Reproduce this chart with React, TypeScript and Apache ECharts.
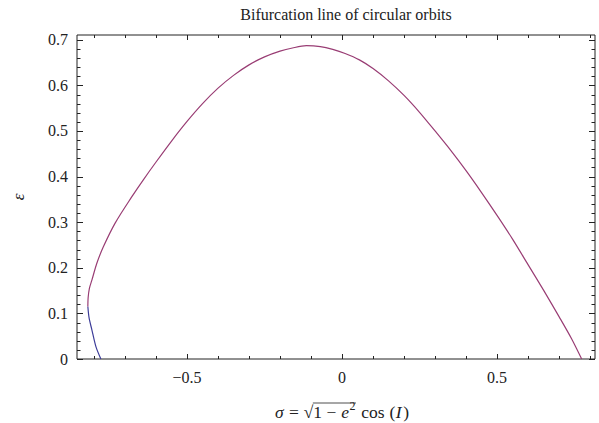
import React, { useEffect, useRef } from "react";
import * as echarts from "echarts";

const FONT = "Liberation Serif";
const TITLE = "Bifurcation line of circular orbits";

// lower (blue) branch: sigma, e
const sigmaLower = [-0.820, -0.816, -0.807, -0.794, -0.778];
const eLower = [0.115, 0.09, 0.064, 0.027, 0];

// upper (purple) branch: sigma, e
const sigmaUpper = [
  -0.820, -0.819, -0.815, -0.807, -0.791, -0.770, -0.732, -0.678, -0.641, -0.6,
  -0.55, -0.5, -0.45, -0.4, -0.35, -0.3, -0.25, -0.2, -0.16, -0.115, -0.07, -0.03,
  0.01, 0.056, 0.1, 0.15, 0.2, 0.25, 0.3, 0.35, 0.4, 0.45, 0.5, 0.55, 0.6, 0.65,
  0.7, 0.74, 0.773,
];
const eUpper = [
  0.115, 0.135, 0.155, 0.173, 0.21, 0.246, 0.298, 0.356, 0.393, 0.432,
  0.478, 0.521, 0.56, 0.594, 0.622, 0.645, 0.6625, 0.675, 0.682, 0.687, 0.685, 0.679,
  0.67, 0.656, 0.637, 0.61, 0.578, 0.541, 0.5, 0.458, 0.413, 0.365, 0.315, 0.263, 0.207, 0.151,
  0.093, 0.045, 0,
];

const xMajorTicks = [-0.5, 0, 0.5];
const xMinorTicks = [-0.8, -0.7, -0.6, -0.4, -0.3, -0.2, -0.1, 0.1, 0.2, 0.3, 0.4, 0.6, 0.7, 0.8];
const yMajorTicks = [0, 0.1, 0.2, 0.3, 0.4, 0.5, 0.6, 0.7];
const yMinorTicks = [
  0.02, 0.04, 0.06, 0.08, 0.12, 0.14, 0.16, 0.18, 0.22, 0.24, 0.26, 0.28,
  0.32, 0.34, 0.36, 0.38, 0.42, 0.44, 0.46, 0.48, 0.52, 0.54, 0.56, 0.58,
  0.62, 0.64, 0.66, 0.68,
];

const X_MIN = -0.855;
const X_MAX = 0.816;
const Y_MIN = 0;
const Y_MAX = 0.7105;

const AXIS_COLOR = "#222";
const BLUE = "#3D3D99";
const PURPLE = "#993D74";

function measure(text: string, size: number, italic = false): number {
  const c = document.createElement("canvas").getContext("2d");
  if (!c) return text.length * size * 0.5;
  c.font = `${italic ? "italic " : ""}${size}px "${FONT}"`;
  return c.measureText(text).width;
}

export default function App() {
  const ref = useRef<HTMLDivElement>(null);
  useEffect(() => {
    if (!ref.current) return;
    const chart = echarts.init(ref.current, null, { renderer: "svg" });

    // x-axis title pieces: σ = √(1 − e²) cos (I)
    const fs = 17.5;
    const cx = 342;
    const cy = 412;
    const parts: { t: string; it: boolean; size: number; dy: number; gap: number }[] = [
      { t: "\u03C3", it: true, size: fs, dy: 0, gap: 1 },
      { t: " = ", it: false, size: fs, dy: 0, gap: 0.5 },
      { t: "\u221A", it: false, size: fs, dy: 0, gap: 0 },
      { t: "1 \u2212 ", it: false, size: fs, dy: 0, gap: 0.5 },
      { t: "e", it: true, size: fs, dy: 0, gap: 0.5 },
      { t: "2", it: false, size: 12, dy: -6, gap: 1.5 },
      { t: " cos ", it: false, size: fs, dy: 0, gap: 0.5 },
      { t: "(", it: false, size: fs, dy: 0, gap: 0.5 },
      { t: "I", it: true, size: fs, dy: 0, gap: 1.5 },
      { t: ")", it: false, size: fs, dy: 0, gap: 0 },
    ];
    const widths = parts.map((p) => measure(p.t, p.size, p.it) + p.gap);
    const total = widths.reduce((a, b) => a + b, 0);
    let xx = cx - total / 2;
    const xTitleEls: any[] = [];
    let barStart = 0;
    let barEnd = 0;
    parts.forEach((p, i) => {
      if (i === 3) barStart = xx;
      xTitleEls.push({
        type: "text",
        x: xx,
        y: cy + p.dy,
        style: {
          text: p.t,
          fontFamily: FONT,
          fontSize: p.size,
          fontStyle: p.it ? "italic" : "normal",
          fill: "#222",
          align: "left",
          verticalAlign: "middle",
        },
      });
      xx += widths[i];
      if (i === 5) barEnd = xx - p.gap;
    });
    xTitleEls.push({
      type: "line",
      shape: { x1: barStart - 0.5, y1: cy - 9, x2: barEnd + 0.5, y2: cy - 9 },
      style: { stroke: "#222", lineWidth: 0.8 },
    });

    const xTickData = [
      ...xMajorTicks.map((v) => [v, 1]),
      ...xMinorTicks.map((v) => [v, 0]),
    ];
    const yTickData = [
      ...yMajorTicks.map((v) => [1, v]),
      ...yMinorTicks.map((v) => [0, v]),
    ];
    const tickStyle = { stroke: AXIS_COLOR, lineWidth: 1 };

    const option: any = {
      animation: false,
      backgroundColor: "#fff",
      grid: {
        left: 77,
        right: 4,
        top: 35,
        bottom: 64,
        containLabel: false,
        outerBoundsMode: "none",
        show: true,
        borderColor: AXIS_COLOR,
        borderWidth: 1,
        backgroundColor: "transparent",
      },
      xAxis: {
        type: "value",
        min: X_MIN,
        max: X_MAX,
        axisLine: { show: false, onZero: false },
        axisTick: { show: false },
        axisLabel: {
          show: true,
          customValues: xMajorTicks,
          margin: 10,
          color: "#222",
          fontFamily: FONT,
          fontSize: 16,
          formatter: (v: number) => (v < 0 ? "\u2212" + String(-v) : String(v)),
        },
        splitLine: { show: false },
      },
      yAxis: {
        type: "value",
        min: Y_MIN,
        max: Y_MAX,
        axisLine: { show: false, onZero: false },
        axisTick: { show: false },
        axisLabel: {
          show: true,
          customValues: yMajorTicks,
          margin: 9,
          color: "#222",
          fontFamily: FONT,
          fontSize: 16,
          formatter: (v: number) => String(v),
        },
        splitLine: { show: false },
      },
      series: [
        {
          type: "custom",
          name: "xticks",
          coordinateSystem: "cartesian2d",
          clip: false,
          silent: true,
          data: xTickData,
          encode: { x: 0 },
          renderItem: (_p: any, api: any) => {
            const v = api.value(0);
            const len = api.value(1) === 1 ? 5 : 3;
            const b = api.coord([v, Y_MIN]);
            const t = api.coord([v, Y_MAX]);
            const x = Math.round(b[0]) + 0.5;
            return {
              type: "group",
              children: [
                { type: "line", shape: { x1: x, y1: b[1], x2: x, y2: b[1] - len }, style: tickStyle },
                { type: "line", shape: { x1: x, y1: t[1], x2: x, y2: t[1] + len }, style: tickStyle },
              ],
            };
          },
        },
        {
          type: "custom",
          name: "yticks",
          coordinateSystem: "cartesian2d",
          clip: false,
          silent: true,
          data: yTickData,
          encode: { y: 1 },
          renderItem: (_p: any, api: any) => {
            const v = api.value(1);
            const len = api.value(0) === 1 ? 6 : 3.5;
            const l = api.coord([X_MIN, v]);
            const r = api.coord([X_MAX, v]);
            const y = Math.round(l[1]) + 0.5;
            return {
              type: "group",
              children: [
                { type: "line", shape: { x1: l[0], y1: y, x2: l[0] + len, y2: y }, style: tickStyle },
                { type: "line", shape: { x1: r[0], y1: y, x2: r[0] - len, y2: y }, style: tickStyle },
              ],
            };
          },
        },
        {
          type: "line",
          name: "lower",
          data: sigmaLower.map((s, i) => [s, eLower[i]]),
          showSymbol: false,
          smooth: 0.3,
          lineStyle: { color: BLUE, width: 1.2 },
          itemStyle: { color: BLUE },
        },
        {
          type: "line",
          name: "upper",
          data: sigmaUpper.map((s, i) => [s, eUpper[i]]),
          showSymbol: false,
          smooth: 0.3,
          lineStyle: { color: PURPLE, width: 1.2 },
          itemStyle: { color: PURPLE },
        },
      ],
      graphic: [
        {
          type: "text",
          x: 346,
          y: 14,
          style: {
            text: TITLE,
            fontFamily: FONT,
            fontSize: 16,
            fill: "#222",
            align: "center",
            verticalAlign: "middle",
          },
        },
        {
          type: "text",
          x: 18,
          y: 197,
          rotation: Math.PI / 2,
          style: {
            text: "\u03B5",
            fontFamily: FONT,
            fontSize: 17,
            fontStyle: "italic",
            fill: "#222",
            align: "center",
            verticalAlign: "middle",
          },
        },
        ...xTitleEls,
      ],
    };
    chart.setOption(option);
    return () => chart.dispose();
  }, []);
  return (
    <div
      ref={ref}
      style={{ position: "fixed", left: 0, top: 0, width: 599, height: 423 }}
    />
  );
}
